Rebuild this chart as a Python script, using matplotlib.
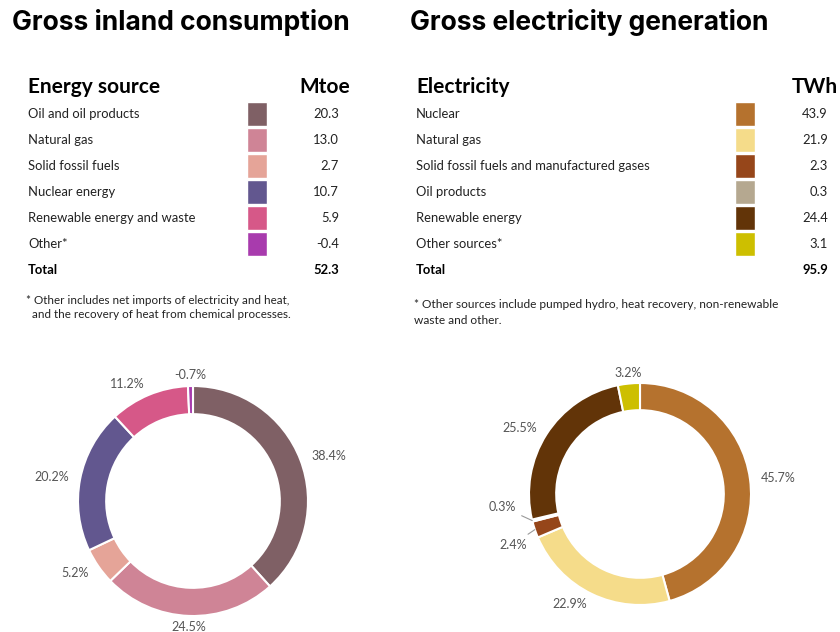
import numpy as np
import matplotlib
matplotlib.use("Agg")
import matplotlib.pyplot as plt
from matplotlib.patches import Rectangle

# --- data ---
inland_sources = ["Oil and oil products", "Natural gas", "Solid fossil fuels",
                  "Nuclear energy", "Renewable energy and waste", "Other*"]
inland_mtoe = ["20.3", "13.0", "2.7", "10.7", "5.9", "-0.4"]
inland_total = "52.3"
inland_share = [38.4, 24.5, 5.2, 20.2, 11.2, -0.7]
inland_colors = ["#7f6065", "#cf8496", "#e5a498", "#62578f", "#d65888", "#a83bad"]

elec_sources = ["Nuclear", "Natural gas", "Solid fossil fuels and manufactured gases",
                "Oil products", "Renewable energy", "Other sources*"]
elec_twh = ["43.9", "21.9", "2.3", "0.3", "24.4", "3.1"]
elec_total = "95.9"
elec_share = [45.7, 22.9, 2.4, 0.3, 25.5, 3.2]
elec_colors = ["#b5722e", "#f5dc8a", "#96461a", "#b5a890", "#623408", "#cdbf00"]

inland_note = ["* Other includes net imports of electricity and heat,",
               "  and the recovery of heat from chemical processes."]
elec_note = ["* Other sources include pumped hydro, heat recovery, non-renewable",
             "waste and other."]

W, H = 840, 632
TITLE_FONT = "Inter"
BODY_FONT = "Lato"
LABEL_GREY = "#555555"

fig = plt.figure(figsize=(W / 100, H / 100), dpi=100)
bg = fig.add_axes([0, 0, 1, 1])
bg.set_xlim(0, W)
bg.set_ylim(H, 0)
bg.axis("off")


def draw_table(title_x, x0, title, header, unit, unit_x, names, values, total,
               colors, sw_x, val_x, note, note_y, note_size):
    bg.text(title_x, 22, title, fontsize=19, fontweight="bold", family=TITLE_FONT,
            va="center", ha="left")
    bg.text(x0, 87, header, fontsize=15, fontweight="bold", family=BODY_FONT,
            va="center", ha="left")
    bg.text(unit_x, 87, unit, fontsize=15, fontweight="bold", family=BODY_FONT,
            va="center", ha="right")
    for i, (name, val, col) in enumerate(zip(names, values, colors)):
        y = 114 + 26 * i
        bg.text(x0, y, name, fontsize=9.4, family=BODY_FONT, color="#222222",
                va="center", ha="left")
        bg.add_patch(Rectangle((sw_x, y - 12), 20, 24, facecolor=col,
                               edgecolor="white", lw=1))
        bg.text(val_x, y, val, fontsize=9.4, family=BODY_FONT, color="#222222",
                va="center", ha="right")
    yt = 114 + 26 * len(names)
    bg.text(x0, yt, "Total", fontsize=9.4, fontweight="bold", family=BODY_FONT,
            va="center", ha="left")
    bg.text(val_x, yt, total, fontsize=9.4, fontweight="bold", family=BODY_FONT,
            va="center", ha="right")
    for k, line in enumerate(note):
        bg.text(x0 - 2, note_y + 15 * k, line, fontsize=note_size,
                family=BODY_FONT, color="#222222", va="center", ha="left")


draw_table(12, 28, "Gross inland consumption", "Energy source", "Mtoe", 350,
           inland_sources, inland_mtoe, inland_total, inland_colors,
           247, 339, inland_note, 300, 8.4)
draw_table(410, 416, "Gross electricity generation", "Electricity", "TWh", 838,
           elec_sources, elec_twh, elec_total, elec_colors,
           735, 828, elec_note, 305, 8.6)


def donut(cx, cy, radius, shares, colors, nudges):
    half = 150
    ax = fig.add_axes([(cx - half) / W, 1 - (cy + half) / H, 2 * half / W, 2 * half / H])
    ax.axis("off")
    sizes = np.abs(shares)
    wedges, _ = ax.pie(sizes, colors=colors, startangle=90, counterclock=False,
                       radius=1, wedgeprops=dict(width=0.245, edgecolor="white",
                                                 linewidth=1.5))
    # pie() resets the limits, so fix the scale afterwards
    lim = half / radius
    ax.set_xlim(-lim, lim)
    ax.set_ylim(-lim, lim)
    ax.set_aspect("equal")
    for i, (w, s) in enumerate(zip(wedges, shares)):
        mid = np.deg2rad((w.theta1 + w.theta2) / 2)
        label = f"{s:.1f}%"
        if i in nudges:
            ang, r = nudges[i]
            tx, ty = r * np.cos(np.deg2rad(ang)), r * np.sin(np.deg2rad(ang))
            ax.annotate(label, xy=(1.0 * np.cos(mid), 1.0 * np.sin(mid)),
                        xytext=(tx, ty), fontsize=9, family=BODY_FONT,
                        color=LABEL_GREY, ha="right", va="center",
                        arrowprops=dict(arrowstyle="-", color="#999999", lw=0.8,
                                        shrinkA=2, shrinkB=0))
            continue
        x, y = 1.1 * np.cos(mid), 1.1 * np.sin(mid)
        ha = "left" if x > 0.15 else ("right" if x < -0.15 else "center")
        ax.text(x, y, label, fontsize=9, family=BODY_FONT, color=LABEL_GREY,
                ha=ha, va="center")
    return ax


donut(193, 501, 115, inland_share, inland_colors, {})
donut(640, 494, 111, elec_share, elec_colors, {2: (204, 1.12), 3: (186, 1.12)})

fig.savefig("out.png", dpi=100, facecolor="white")
